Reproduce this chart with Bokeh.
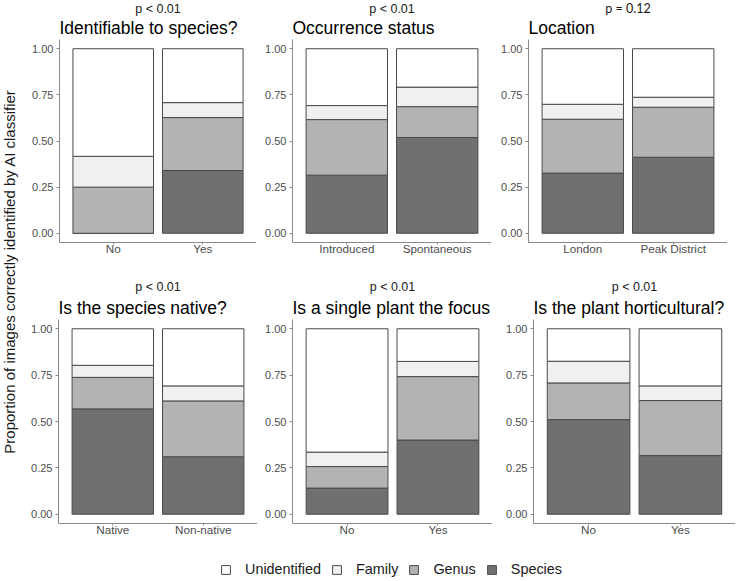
import math
import numpy as np
from bokeh.plotting import figure
from bokeh.layouts import row, column
from bokeh.models import (Range1d, FixedTicker, NumeralTickFormatter, Title, Label,
                          Legend, LegendItem, ColumnDataSource)
from bokeh.embed import file_html
from bokeh.resources import INLINE

# ---------------- data ----------------
titles = ["Identifiable to species?", "Occurrence status", "Location",
          "Is the species native?", "Is a single plant the focus", "Is the plant horticultural?"]
pvalues = ["p < 0.01", "p < 0.01", "p = 0.12", "p < 0.01", "p < 0.01", "p < 0.01"]
categories = [["No", "Yes"], ["Introduced", "Spontaneous"], ["London", "Peak District"],
              ["Native", "Non-native"], ["No", "Yes"], ["No", "Yes"]]
species = [[0.000, 0.340], [0.315, 0.519], [0.326, 0.412],
           [0.568, 0.310], [0.141, 0.400], [0.510, 0.316]]
genus = [[0.250, 0.287], [0.301, 0.167], [0.292, 0.271],
         [0.170, 0.301], [0.116, 0.342], [0.198, 0.297]]
family = [[0.167, 0.081], [0.076, 0.106], [0.081, 0.054],
          [0.065, 0.081], [0.078, 0.082], [0.117, 0.079]]
unidentified = [[0.583, 0.292], [0.308, 0.208], [0.301, 0.263],
                [0.197, 0.308], [0.665, 0.176], [0.175, 0.308]]
y_ticks = [0.0, 0.25, 0.5, 0.75, 1.0]
legend_levels = ["Unidentified", "Family", "Genus", "Species"]
y_label = "Proportion of images correctly identified by AI classifier"

# ---------------- style / layout ----------------
FONT = "Liberation Sans"
fill = {"Species": "#707070", "Genus": "#b3b3b3", "Family": "#f0f0f0", "Unidentified": "#ffffff"}
bar_line = "#4a4a4a"
axis_col = "#8a8a8a"
tick_lab_col = "#4d4d4d"
pfont = {"p = 0.12": "Lato"}

YLAB_W = 20
FRAME_H = 204
BOTTOM = 20
TOP = [38, 57]
TITLE_STANDOFF = [3, 3]
P_STANDOFF = [-3, 1]
# (min_border_left, frame width) per panel
HGEOM = [(39, 197), (36, 199), (37, 199),
         (38, 199), (35, 200), (41, 202)]


def make_panel(i):
    cats = categories[i]
    xs = list(range(1, len(cats) + 1))
    r_ = i // 3
    top = TOP[r_]
    mbl, fw = HGEOM[i]
    src = ColumnDataSource(dict(x=xs, Species=species[i], Genus=genus[i],
                                Family=family[i], Unidentified=unidentified[i]))
    p = figure(width=mbl + fw, height=top + FRAME_H + BOTTOM, title=None,
               x_range=Range1d(0.4, len(cats) + 0.6), y_range=Range1d(-0.05, 1.05),
               output_backend="svg", toolbar_location=None,
               min_border_left=mbl, min_border_right=0,
               min_border_top=top, min_border_bottom=BOTTOM)
    stack = ["Species", "Genus", "Family", "Unidentified"]
    p.vbar_stack(stack, x="x", width=0.9, source=src,
                 fill_color=[fill[s] for s in stack], line_color=bar_line, line_width=1)
    p.xgrid.visible = False
    p.ygrid.visible = False
    p.outline_line_color = None

    p.yaxis.ticker = FixedTicker(ticks=y_ticks)
    p.yaxis.formatter = NumeralTickFormatter(format="0.00")
    p.xaxis.ticker = FixedTicker(ticks=xs)
    p.xaxis.major_label_overrides = {x: c for x, c in zip(xs, cats)}
    for ax in (p.xaxis[0], p.yaxis[0]):
        ax.axis_line_color = axis_col
        ax.axis_line_width = 1
        ax.major_tick_line_color = axis_col
        ax.major_tick_in = 0
        ax.major_tick_out = 3
        ax.minor_tick_line_color = None
        ax.major_label_text_color = tick_lab_col
        ax.major_label_text_font = FONT
        ax.axis_label_standoff = 0
    p.xaxis.major_label_text_font_size = "11.7px"
    p.xaxis.major_label_standoff = -3
    p.xaxis.major_tick_out = 2
    p.yaxis.major_label_text_font_size = "11px"
    p.yaxis.major_label_standoff = 3

    p.add_layout(Title(text=titles[i], align="left", text_font=FONT, text_font_size="17.5px",
                       text_font_style="normal", text_color="#000000",
                       standoff=TITLE_STANDOFF[r_]), "above")
    p.add_layout(Title(text=pvalues[i], align="center", text_font=pfont.get(pvalues[i], FONT),
                       text_font_size="12.5px", text_font_style="normal",
                       text_color="#1a1a1a", standoff=P_STANDOFF[r_]), "above")
    return p


panels = [make_panel(i) for i in range(6)]
row1 = row(*panels[:3])
row2 = row(*panels[3:])
H_ROWS = (TOP[0] + FRAME_H + BOTTOM) + (TOP[1] + FRAME_H + BOTTOM)

ylab = figure(width=YLAB_W, height=H_ROWS, title=None, x_range=Range1d(0, YLAB_W),
              y_range=Range1d(0, H_ROWS), output_backend="svg", toolbar_location=None,
              min_border=0, x_axis_location=None, y_axis_location=None)
ylab.xgrid.visible = False
ylab.ygrid.visible = False
ylab.outline_line_color = None
ylab.add_layout(Label(x=9, y=H_ROWS - 271, text=y_label, angle=math.pi / 2,
                      text_align="center", text_baseline="middle", text_font=FONT,
                      text_font_size="15px", text_color="#1a1a1a"))

LEG_W = 726
leg = figure(width=LEG_W, height=36, title=None, x_range=Range1d(0, 1), y_range=Range1d(0, 1),
             output_backend="svg", toolbar_location=None, min_border_left=56, min_border_right=0,
             min_border_top=16, min_border_bottom=0, x_axis_location=None, y_axis_location=None)
leg.xgrid.visible = False
leg.ygrid.visible = False
leg.outline_line_color = None
items = []
nan = np.array([np.nan])
for lev in legend_levels:
    r = leg.quad(left=nan, right=nan, top=nan, bottom=nan, fill_color=fill[lev], line_color=bar_line)
    items.append(LegendItem(label=lev, renderers=[r]))
legend = Legend(items=items, orientation="horizontal", location="center",
                glyph_width=11, glyph_height=11, label_standoff=14, spacing=10,
                padding=0, margin=0, border_line_color=None, background_fill_alpha=0,
                label_text_font=FONT, label_text_font_size="14.4px", label_text_color="#1a1a1a")
leg.add_layout(legend, "center")

layout = column(row(ylab, column(row1, row2)), leg)

with open("out.html", "w") as f:
    f.write(file_html(layout, INLINE))
